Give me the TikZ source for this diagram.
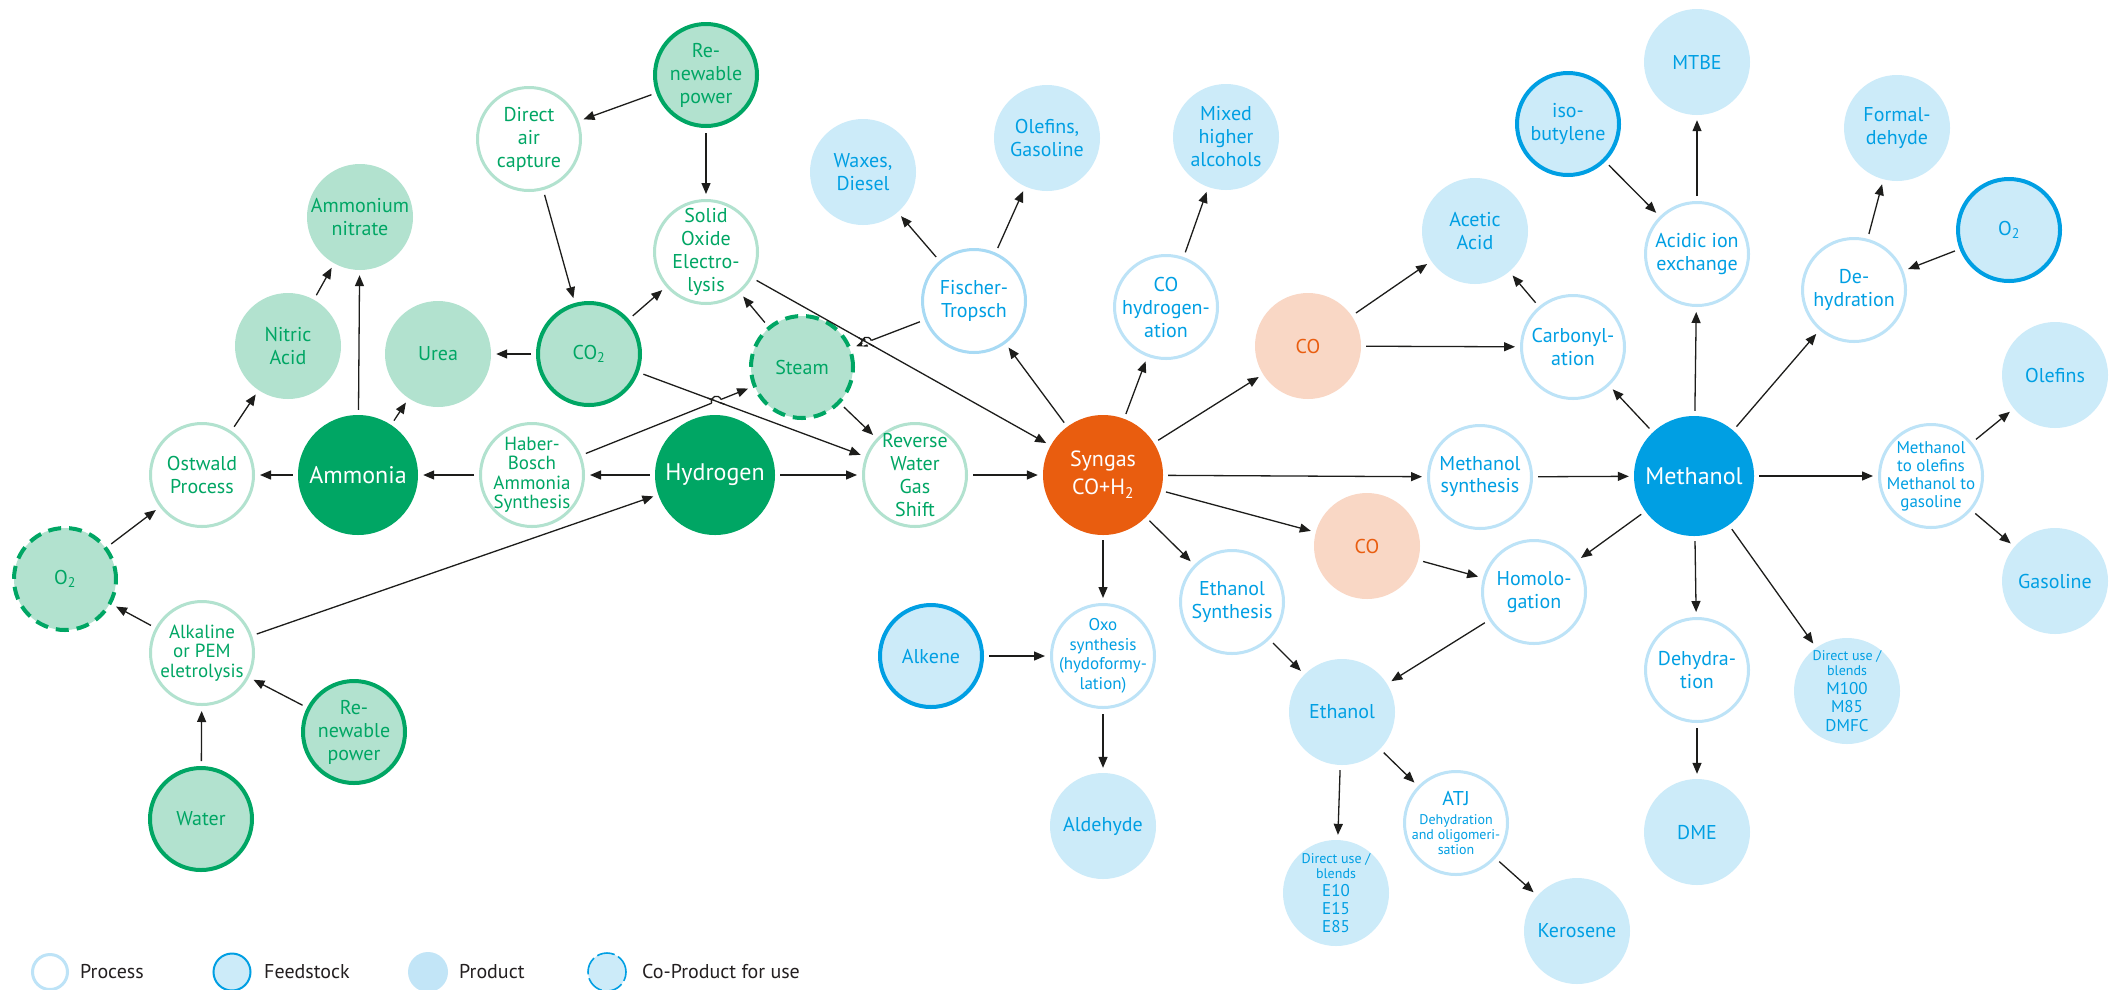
\documentclass[tikz,border=0pt]{standalone}
\usepackage{fontspec}
\setmainfont{PT Sans}
\usetikzlibrary{arrows.meta,calc,intersections}
\definecolor{gdark}{HTML}{00A664}
\definecolor{glight}{HTML}{B2E2CF}
\definecolor{bdark}{HTML}{009FE3}
\definecolor{blight}{HTML}{CCEBF9}
\definecolor{bline}{HTML}{BDE3F7}
\definecolor{bftline}{HTML}{A8DAF4}
\definecolor{blegprod}{HTML}{C2E5F7}
\definecolor{orng}{HTML}{E95D0F}
\definecolor{peach}{HTML}{F9D7C5}
\definecolor{arrowc}{HTML}{1D1D1B}
\definecolor{legtext}{HTML}{231F20}
\tikzset{
  nd/.style={circle, inner sep=0pt, align=center, font=\fontsize{20}{23}\selectfont},
  gproc/.style={nd, minimum size=103pt, draw=glight, line width=3pt, fill=white, text=gdark},
  gprod/.style={nd, minimum size=106pt, fill=glight, text=gdark},
  gfeed/.style={nd, minimum size=102pt, draw=gdark, line width=4pt, fill=glight, text=gdark},
  gco/.style={gfeed, dash pattern=on 13pt off 8pt},
  gbig/.style={nd, minimum size=120pt, fill=gdark, text=white, font=\fontsize{24}{28}\selectfont},
  bproc/.style={nd, minimum size=103pt, draw=bline, line width=3pt, fill=white, text=bdark},
  bprod/.style={nd, minimum size=106pt, fill=blight, text=bdark},
  bfeed/.style={nd, minimum size=102pt, draw=bdark, line width=4pt, fill=blight, text=bdark},
  bbig/.style={nd, minimum size=120pt, fill=bdark, text=white, font=\fontsize{24}{28}\selectfont},
  cop/.style={nd, minimum size=106pt, fill=peach, text=orng},
  sbig/.style={nd, minimum size=120pt, fill=orng, text=white, font=\fontsize{22}{28}\selectfont},
  arr/.style={draw=arrowc, line width=1.3pt, -{Triangle[length=11pt,width=9pt]}, shorten >=5pt, shorten <=5pt},
  plain/.style={draw=arrowc, line width=1.3pt},
  lproc/.style={circle, inner sep=0pt, minimum size=35pt, draw=bline, line width=3pt, fill=white},
  lfeed/.style={circle, inner sep=0pt, minimum size=37pt, draw=bdark, line width=2pt, fill=blight},
  lprod/.style={circle, inner sep=0pt, minimum size=40pt, fill=blegprod},
  lco/.style={circle, inner sep=0pt, minimum size=38pt, draw=bdark, line width=1.6pt, dash pattern=on 18pt off 4pt, fill=blight},
  ltxt/.style={anchor=base west, text=legtext, font=\fontsize{20}{23}\selectfont, inner sep=0pt},
}
% circle node of fixed size, text laid over it
\newcommand\cn[5][]{%
  \node[#2,#1] (#3) at (#4) {};
  \node[#2,#1,draw=none,fill=none,minimum size=0pt] (#3-t) at (#3) {#5};}
\begin{document}
\begin{tikzpicture}[x=1pt,y=-1pt]
\fill[white] (0,0) rectangle (2114,989);
\useasboundingbox (0,0) rectangle (2114,989);

% ---------- green part ----------
\cn{gfeed}{rpt}{706,75}{Re-\\newable\\power}
\cn{gproc}{dac}{529,139}{Direct\\air\\capture}
\cn{gprod}{amn}{360,217}{Ammonium\\nitrate}
\cn{gprod}{nit}{288,346}{Nitric\\Acid}
\cn{gprod}{urea}{438,354}{Urea}
\cn{gfeed}{co2}{589,354}{CO\textsubscript{2}}
\cn{gproc}{soe}{706,252}{Solid\\Oxide\\Electro-\\lysis}
\cn{gco}{steam}{802,367}{Steam}
\cn{gco}{o2l}{65,579}{O\textsubscript{2}}
\cn{gproc}{ost}{202,475}{Ostwald\\Process}
\cn{gbig}{amm}{358,475}{Ammonia}
\cn[font=\fontsize{19}{19.5}\selectfont]{gproc}{hb}{532,475}{Haber-\\Bosch\\Ammonia\\Synthesis}
\cn{gbig}{h2}{715,475}{Hydrogen}
\cn{gproc}{rwgs}{915,475}{Reverse\\Water\\Gas\\Shift}
\cn[font=\fontsize{19}{19.5}\selectfont]{gproc}{alk}{202,653}{Alkaline\\or PEM\\eletrolysis}
\cn{gfeed}{rpb}{354,732}{Re-\\newable\\power}
\cn{gfeed}{water}{201,819}{Water}

% ---------- syngas / blue part ----------
\cn{bprod}{wax}{863,172}{Waxes,\\Diesel}
\cn{bprod}{olg}{1047,138}{Olefins,\\Gasoline}
\cn{bprod}{mha}{1226,137}{Mixed\\higher\\alcohols}
\cn[draw=bftline]{bproc}{ft}{974,301}{Fischer-\\Tropsch}
\cn{bproc}{coh}{1166,307}{CO\\hydrogen-\\ation}
\cn{cop}{cot}{1308,346}{CO}
\cn{sbig}{syn}{1103,475}{Syngas\\CO+H\textsubscript{2}}
\cn{bprod}{acet}{1475,231}{Acetic\\Acid}
\cn{bproc}{carb}{1573,347}{Carbonyl-\\ation}
\cn{bprod}{mtbe}{1697,62}{MTBE}
\cn{bfeed}{iso}{1568,124}{iso-\\butylene}
\cn{bproc}{aie}{1697,254}{Acidic ion\\exchange}
\cn{bprod}{form}{1897,128}{Formal-\\dehyde}
\cn{bproc}{dehy}{1854,290}{De-\\hydration}
\cn{bfeed}{o2r}{2009,230}{O\textsubscript{2}}
\cn{bprod}{olef}{2055,375}{Olefins}
\cn[font=\fontsize{17}{18}\selectfont]{bproc}{mto}{1931,476}{Methanol\\to olefins\\Methanol to\\gasoline}
\cn{bprod}{gas}{2055,581}{Gasoline}
\cn[font=\fontsize{20}{22}\selectfont]{bproc}{msyn}{1480,477}{Methanol\\synthesis}
\cn{bbig}{meth}{1694,476}{Methanol}
\cn{bproc}{homo}{1534,592}{Homolo-\\gation}
\cn{bproc}{dehy2}{1697,670}{Dehydra-\\tion}
\cn{bprod}{dme}{1697,832}{DME}
\cn[font=\fontsize{17}{18.5}\selectfont]{bprod}{dum}{1847,691}{{\fontsize{14}{15}\selectfont Direct use /}\\[-3.5pt]{\fontsize{14}{15}\selectfont blends}\\M100\\M85\\DMFC}
\cn{bproc}{etsyn}{1232,602}{Ethanol\\Synthesis}
\cn{cop}{col}{1367,546}{CO}
\cn{bfeed}{alkene}{931,656}{Alkene}
\cn[font=\fontsize{17}{19.5}\selectfont]{bproc}{oxo}{1103,656}{Oxo\\synthesis\\(hydoformy-\\lation)}
\cn{bprod}{ald}{1103,826}{Aldehyde}
\cn{bprod}{eth}{1342,712}{Ethanol}
\cn[font=\fontsize{17}{18}\selectfont]{bprod}{due}{1336,893}{{\fontsize{14}{15}\selectfont Direct use /}\\[-3pt]{\fontsize{14}{15}\selectfont blends}\\E10\\E15\\E85}
\cn[font=\fontsize{14}{15}\selectfont]{bproc}{atj}{1456,823}{{\fontsize{20}{20}\selectfont ATJ}\\[4pt]Dehydration\\and oligomeri-\\sation}
\cn{bprod}{ker}{1577,931}{Kerosene}

% ---------- arrows, green ----------
\draw[arr] (rpt) -- (dac);
\draw[arr] (rpt) -- (soe);
\draw[arr] (dac) -- (co2);
\draw[arr] (co2) -- (urea);
\draw[arr] (co2) -- (soe);
\draw[arr] (h2) -- (hb);
\draw[arr] (hb) -- (amm);
\draw[arr] (amm) -- (ost);
\draw[arr] (amm) -- (urea);
\draw[arr] (amm) -- (amn);
\draw[arr] (ost) -- (nit);
\draw[arr] (nit) -- (amn);
\draw[arr] (o2l) -- (ost);
\draw[arr] (alk) -- (o2l);
\draw[arr] (alk) -- (h2);
\draw[arr] (water) -- (alk);
\draw[arr] (rpb) -- (alk);
\draw[arr] (h2) -- (rwgs);
\draw[arr] (steam) -- (soe);
\draw[arr] (steam) -- (rwgs);
\draw[arr] (rwgs) -- (syn);

% hop 1: Haber-Bosch -> Steam over CO2 -> RWGS
\draw[arr, name path=pA] (co2) -- (rwgs);
\draw[arr, name path=pB] (hb) -- (steam);
\path[name intersections={of=pA and pB, by=X1}];
\coordinate (h1a) at ($(X1)!5pt!(hb)$);
\coordinate (h1b) at ($(X1)!5pt!(steam)$);
\draw[white, line width=4pt] (h1a) -- (h1b);
\draw[plain] ($(X1)!9pt!(co2)$) -- ($(X1)!9pt!(rwgs)$);
\draw[plain] (h1a) .. controls ($(h1a)!6.7pt!90:(h1b)$) and ($(h1b)!6.7pt!-90:(h1a)$) .. (h1b);

% hop 2: Fischer-Tropsch -> Steam over SOE -> Syngas
\draw[arr, name path=pC] (soe) -- (syn);
\draw[arr, name path=pD] (ft) -- (steam);
\path[name intersections={of=pC and pD, by=X2}];
\coordinate (h2a) at ($(X2)!5pt!(ft)$);
\coordinate (h2b) at ($(X2)!5pt!(steam)$);
\draw[white, line width=4pt] (h2a) -- (h2b);
\draw[plain] ($(X2)!9pt!(soe)$) -- ($(X2)!9pt!(syn)$);
\draw[plain] (h2a) .. controls ($(h2a)!6.7pt!-90:(h2b)$) and ($(h2b)!6.7pt!90:(h2a)$) .. (h2b);

% ---------- arrows, syngas / blue ----------
\draw[arr] (syn) -- (ft);
\draw[arr] (ft) -- (wax);
\draw[arr] (ft) -- (olg);
\draw[arr] (syn) -- (coh);
\draw[arr] (coh) -- (mha);
\draw[arr] (syn) -- (cot);
\draw[arr] (cot) -- (acet);
\draw[arr] (cot) -- (carb);
\draw[arr] (carb) -- (acet);
\draw[arr] (syn) -- (msyn);
\draw[arr] (msyn) -- (meth);
\draw[arr] (syn) -- (col);
\draw[arr] (syn) -- (etsyn);
\draw[arr] (syn) -- (oxo);
\draw[arr] (alkene) -- (oxo);
\draw[arr] (oxo) -- (ald);
\draw[arr] (etsyn) -- (eth);
\draw[arr] (col) -- (homo);
\draw[arr] (meth) -- (homo);
\draw[arr] (homo) -- (eth);
\draw[arr] (eth) -- (due);
\draw[arr] (eth) -- (atj);
\draw[arr] (atj) -- (ker);
\draw[arr] (meth) -- (carb);
\draw[arr] (meth) -- (aie);
\draw[arr] (iso) -- (aie);
\draw[arr] (aie) -- (mtbe);
\draw[arr] (meth) -- (dehy);
\draw[arr] (dehy) -- (form);
\draw[arr] (o2r) -- (dehy);
\draw[arr] (meth) -- (mto);
\draw[arr] (mto) -- (olef);
\draw[arr] (mto) -- (gas);
\draw[arr] (meth) -- (dehy2);
\draw[arr] (dehy2) -- (dme);
\draw[arr] (meth) -- (dum);

% ---------- legend ----------
\node[lproc] (lg1) at (50,972) {};
\node[ltxt] (lt1) at (80,978) {Process};
\node[lfeed] (lg2) at (232,972) {};
\node[ltxt] (lt2) at (264,978) {Feedstock};
\node[lprod] (lg3) at (428,972) {};
\node[ltxt] (lt3) at (459,978) {Product};
\node[lco] (lg4) at (607,972) {};
\node[ltxt] (lt4) at (642,978) {Co-Product for use};
\end{tikzpicture}
\end{document}
